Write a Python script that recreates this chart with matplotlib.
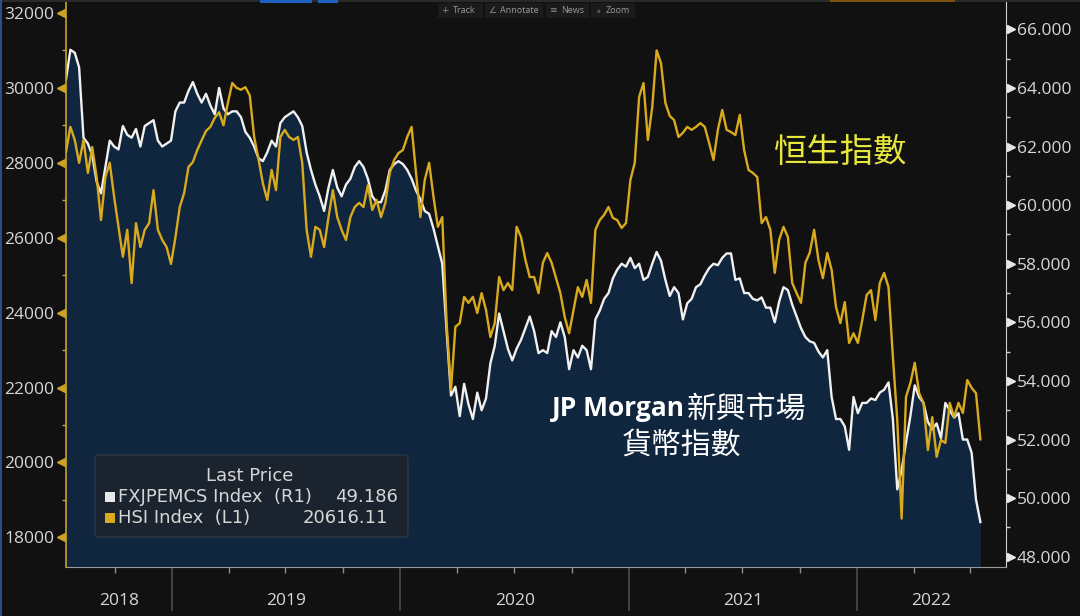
import numpy as np
import pandas as pd
import matplotlib
matplotlib.use('Agg')
import matplotlib.pyplot as plt
import matplotlib.transforms as mtransforms
from matplotlib.patches import FancyBboxPatch, Rectangle

# ---------------- data (weekly samples) ----------------
fx_values = [
    64.3, 65.3, 65.2, 64.7, 62.3, 62.1, 61.7, 60.8, 60.4, 61.3,
    62.2, 62.0, 61.9, 62.7, 62.4, 62.3, 62.6, 62.0, 62.7, 62.8,
    62.9, 62.2, 62.0, 62.1, 62.2, 63.2, 63.5, 63.5, 63.9, 64.2,
    63.8, 63.5, 63.8, 63.4, 63.1, 64.0, 63.3, 63.1, 63.2, 63.2,
    63.0, 62.5, 62.3, 62.0, 61.6, 61.5, 61.8, 62.2, 62.0, 62.8,
    63.0, 63.1, 63.2, 63.0, 62.7, 61.8, 61.2, 60.7, 60.3, 59.8,
    60.6, 61.2, 60.6, 60.3, 60.7, 60.9, 61.3, 61.5, 61.3, 60.9,
    60.3, 60.1, 60.1, 60.5, 61.2, 61.4, 61.5, 61.4, 61.2, 60.9,
    60.5, 60.2, 59.8, 59.7, 59.2, 58.6, 58.0, 55.7, 53.5, 53.8,
    52.8, 53.9, 53.2, 52.7, 53.6, 53.0, 53.4, 54.6, 55.2, 56.3,
    55.7, 55.1, 54.7, 55.1, 55.4, 55.8, 56.2, 55.7, 54.95, 55.05,
    54.95, 55.7, 55.5, 56.0, 55.5, 54.4, 55.05, 54.8, 55.2, 55.05,
    54.4, 56.1, 56.4, 56.8, 57.0, 57.5, 57.8, 58.0, 57.9, 58.2,
    57.85, 58.0, 57.45, 57.55, 58.0, 58.4, 58.1, 57.45, 56.9, 57.2,
    57.0, 56.1, 56.65, 56.8, 57.2, 57.3, 57.6, 57.85, 58.0, 57.95,
    58.2, 58.35, 58.35, 57.45, 57.5, 57.0, 57.0, 56.8, 56.75, 56.85,
    56.5, 56.5, 56.0, 56.7, 57.2, 57.1, 56.6, 56.2, 55.8, 55.5,
    55.35, 55.3, 55.0, 54.8, 55.05, 53.45, 52.7, 52.7, 52.45, 51.65,
    53.45, 52.9, 53.25, 53.25, 53.4, 53.35, 53.6, 53.7, 53.95, 52.7,
    50.3, 50.95, 51.9, 52.8, 53.85, 53.45, 53.25, 52.6, 52.35, 52.55,
    52.05, 53.25, 53.0, 52.75, 52.9, 52.0, 52.0, 51.55, 49.95, 49.186,
]

hsi_values = [
    28300, 28960, 28610, 28000, 28610, 27730, 28420, 27620, 26470, 27620,
    28000, 27090, 26290, 25490, 26210, 24790, 26390, 25750, 26210, 26390,
    27270, 26210, 25940, 25750, 25300, 26000, 26820, 27190, 27890, 28020,
    28340, 28600, 28850, 28960, 29200, 29350, 29000, 29600, 30130, 30000,
    29950, 30020, 29800, 28700, 28100, 27450, 27010, 27810, 27270, 28690,
    28880, 28690, 28610, 28690, 28000, 26210, 25490, 26290, 26210, 25750,
    26550, 27270, 26550, 26210, 25940, 26550, 26820, 26930, 26820, 27400,
    26740, 27010, 26550, 26930, 27730, 28075, 28260, 28340, 28690, 28960,
    27730, 26550, 27540, 28000, 27090, 26290, 26550, 23720, 21930, 23620,
    23720, 24420, 24260, 24420, 23990, 24520, 24070, 23350, 23720, 24950,
    24600, 24790, 24600, 26290, 26020, 25410, 24950, 24950, 24520, 25330,
    25590, 25330, 24930, 24520, 23880, 23450, 24070, 24680, 24420, 24870,
    24260, 26210, 26470, 26610, 26820, 26530, 26470, 26260, 26390, 27540,
    28000, 29760, 30130, 28610, 29490, 31000, 30660, 29600, 29250, 29140,
    28690, 28800, 28960, 28880, 28960, 29060, 28960, 28530, 28075, 28880,
    29410, 28880, 28820, 28740, 29280, 28340, 27810, 27730, 27620, 26390,
    26550, 26210, 25060, 25940, 26290, 26020, 24790, 24520, 24260, 25330,
    25600, 26210, 25400, 24920, 25590, 25140, 24150, 23720, 24280, 23190,
    23450, 23190, 23800, 24470, 24600, 23800, 24790, 25060, 24680, 22820,
    21130, 18500, 21750, 22120, 22660, 21850, 21590, 20330, 21210, 20150,
    20600, 20520, 21590, 21210, 21590, 21320, 22200, 21990, 21850, 20616.11,
]

start_date = '2018-07-15'
dates = pd.date_range(start_date, periods=len(hsi_values), freq='7D')

hsi_ticks = list(range(18000, 32001, 2000))
hsi_minor = list(range(19000, 32001, 2000))
fx_ticks = list(range(48, 67, 2))
fx_minor = list(range(49, 67, 2))
year_labels = ['2018', '2019', '2020', '2021', '2022']
year_starts = pd.to_datetime(['2019-01-01', '2020-01-01', '2021-01-01', '2022-01-01'])

annot_hsi = '恒生指數'
annot_fx_a = 'JP Morgan'
annot_fx_b = '新興市場'
annot_fx_c = '貨幣指數'
legend_title = 'Last Price'
legend_names = ['FXJPEMCS Index  (R1)', 'HSI Index  (L1)']
toolbar_items = ['Track', 'Annotate', 'News', 'Zoom']
toolbar_icons = ['+', '∠', '≡', '∘']

# ---------------- style ----------------
BG = '#111111'
FILL = '#10263e'
WHITE = '#f0f0f0'
GOLD = '#d9aa1e'
GOLD_AX = '#c9a227'
TXT = '#d6d6d6'
LATIN = 'Open Sans'
LEG = 'DejaVu Sans'
CJK = ['Noto Sans CJK TC', 'DejaVu Sans']

W, H = 1080, 616
fig = plt.figure(figsize=(W / 100, H / 100), dpi=100, facecolor=BG)
ax = fig.add_axes([66 / W, 1 - 567 / H, 940 / W, 567 / H])
ax.set_facecolor(BG)

FX_LO, FX_HI = 47.65, 67.0
HSI_LO, HSI_HI = 17208, 32347
xmin, xmax = pd.Timestamp('2018-07-15'), pd.Timestamp('2022-08-27')

# FX area (right axis)
ax.fill_between(dates, fx_values, FX_LO, color=FILL, lw=0, zorder=1)
ax.plot(dates, fx_values, color=WHITE, lw=1.7, zorder=2, solid_joinstyle='round')

# HSI line (left axis) drawn on top
ax2 = ax.twinx()
ax2.plot(dates, hsi_values, color=GOLD, lw=1.7, zorder=3, solid_joinstyle='round')

ax.yaxis.tick_right()
ax2.yaxis.tick_left()

# spines
for s in ['top', 'left']:
    ax.spines[s].set_visible(False)
ax.spines['right'].set_color('#d0d0d0')
ax.spines['bottom'].set_color('#9a9a9a')
for s in ['top', 'right', 'bottom']:
    ax2.spines[s].set_visible(False)
ax2.spines['left'].set_color(GOLD_AX)
ax2.spines['left'].set_linewidth(1.2)

# y ticks
ax.set_yticks(fx_ticks)
ax.set_yticklabels([f'{v:.3f}' for v in fx_ticks])
ax.set_yticks(fx_minor, minor=True)
ax.tick_params(axis='y', which='major', length=0, pad=8, labelsize=12.5, labelcolor=TXT)
ax.tick_params(axis='y', which='minor', length=3, width=1, color='#d0d0d0')
for t in ax.get_yticklabels():
    t.set_fontfamily(LATIN)

ax2.set_yticks(hsi_ticks)
ax2.set_yticklabels([f'{v:d}' for v in hsi_ticks])
ax2.set_yticks(hsi_minor, minor=True)
ax2.tick_params(axis='y', which='major', length=0, pad=8.5, labelsize=12.5, labelcolor=TXT)
ax2.tick_params(axis='y', which='minor', length=3, width=1, color=GOLD_AX)
for t in ax2.get_yticklabels():
    t.set_fontfamily(LATIN)

# triangle tick markers
trL = mtransforms.blended_transform_factory(ax2.transAxes, ax2.transData)
ax2.plot([-0.0055] * len(hsi_ticks), hsi_ticks, ls='none', marker='<', ms=5.5,
         color=GOLD_AX, transform=trL, clip_on=False, zorder=5)
trR = mtransforms.blended_transform_factory(ax.transAxes, ax.transData)
ax.plot([1.0055] * len(fx_ticks), fx_ticks, ls='none', marker='>', ms=5.5,
        color='#e6e6e6', transform=trR, clip_on=False, zorder=5)

# x axis
ax.set_xticks(year_starts)
ax.set_xticklabels([''] * len(year_starts))
quarters = [d for d in pd.date_range('2018-10-01', '2022-07-01', freq='QS') if d.month != 1]
ax.set_xticks(quarters, minor=True)
ax.tick_params(axis='x', which='major', length=32, width=1.2, color='#4d4d4d', direction='out')
ax.tick_params(axis='x', which='minor', length=4, width=1, color='#8a8a8a', direction='out')

bounds = [xmin] + list(year_starts) + [xmax]
trX = mtransforms.blended_transform_factory(ax.transData, ax.transAxes)
for lab, a, b in zip(year_labels, bounds[:-1], bounds[1:]):
    mid = a + (b - a) / 2
    ax.text(mid, -0.06, lab, transform=trX, ha='center', va='center',
            fontsize=12.5, color=TXT, fontfamily=LATIN, clip_on=False)

ax.set_xlim(xmin, xmax)
ax.set_ylim(FX_LO, FX_HI)
ax2.set_ylim(HSI_LO, HSI_HI)
ax2.set_xlim(xmin, xmax)

# ---------------- legend box ----------------
IN = fig.dpi_scale_trans
fig.add_artist(FancyBboxPatch((0.95, 0.79), 3.13, 0.82,
                              boxstyle='round,pad=0,rounding_size=0.04',
                              transform=IN, fc='#1b242e', ec='#2c3742', lw=1, zorder=6))
fig.text(2.50, 1.40, legend_title, transform=IN, ha='center', va='center',
         fontsize=13, color=TXT, fontfamily=LEG, zorder=7)
row_y = [1.19, 0.98]
row_vals = [f'{fx_values[-1]:.3f}', f'{hsi_values[-1]:.2f}']
row_right = [3.98, 3.88]
row_colors = ['#e8e8e8', GOLD]
for y, name, val, xr, c in zip(row_y, legend_names, row_vals, row_right, row_colors):
    fig.add_artist(Rectangle((1.05, y - 0.05), 0.10, 0.10, transform=IN,
                             fc=c, ec='none', zorder=7))
    fig.text(1.18, y, name, transform=IN, ha='left', va='center',
             fontsize=13, color=TXT, fontfamily=LEG, zorder=7)
    fig.text(xr, y, val, transform=IN, ha='right', va='center',
             fontsize=13, color=TXT, fontfamily=LEG, zorder=7)

# ---------------- annotations ----------------
fig.text(8.40, 4.64, annot_hsi, transform=IN, ha='center', va='center',
         fontsize=24, color='#e6e63c', fontfamily=CJK, zorder=7)
fig.text(6.85, 2.07, annot_fx_a, transform=IN, ha='right', va='center',
         fontsize=19, color='white', fontfamily=LATIN, fontweight='bold', zorder=7)
fig.text(6.87, 2.07, annot_fx_b, transform=IN, ha='left', va='center',
         fontsize=21.5, color='white', fontfamily=CJK, zorder=7)
fig.text(6.81, 1.71, annot_fx_c, transform=IN, ha='center', va='center',
         fontsize=21.5, color='white', fontfamily=CJK, zorder=7)

# ---------------- top toolbar / UI strip ----------------
fig.add_artist(Rectangle((0, 6.14), 10.8, 0.02, transform=IN, fc='#2a2a2a', ec='none', zorder=7))
fig.add_artist(Rectangle((2.60, 6.135), 0.52, 0.025, transform=IN, fc='#1f5fc0', ec='none', zorder=8))
fig.add_artist(Rectangle((3.18, 6.135), 0.20, 0.025, transform=IN, fc='#1f5fc0', ec='none', zorder=8))
fig.add_artist(Rectangle((8.30, 6.14), 1.25, 0.02, transform=IN, fc='#7a5212', ec='none', zorder=8))
fig.add_artist(Rectangle((0, 0), 0.015, 6.16, transform=IN, fc='#2a4f86', ec='none', zorder=8))
tb_boxes = [(4.38, 4.83), (4.85, 5.43), (5.46, 5.89), (5.91, 6.35)]
for (x0, x1), name, icon in zip(tb_boxes, toolbar_items, toolbar_icons):
    fig.add_artist(Rectangle((x0, 5.98), x1 - x0, 0.15, transform=IN,
                             fc='#1b1b1b', ec='none', zorder=7))
    fig.text(x0 + 0.07, 6.055, icon, transform=IN, ha='center', va='center',
             fontsize=6.5, color='#8a8a8a', zorder=8)
    fig.text(x0 + 0.15, 6.055, name, transform=IN, ha='left', va='center',
             fontsize=6.5, color='#9a9a9a', fontfamily=LATIN, zorder=8)

fig.savefig('out.png', dpi=100, facecolor=BG)
